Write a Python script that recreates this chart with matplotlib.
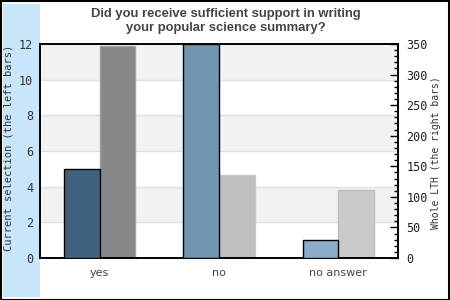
import matplotlib
matplotlib.use("Agg")
import matplotlib.pyplot as plt
from matplotlib.patches import Rectangle
import numpy as np

categories = ["yes", "no", "no answer"]
current_selection = [5, 12, 1]
whole_lth = [346, 136, 111]

title = "Did you receive sufficient support in writing\nyour popular science summary?"
left_label = "Current selection (the left bars)"
right_label = "Whole LTH (the right bars)"

left_colors = ["#41627e", "#7396b0", "#8cadc9"]
right_colors = ["#888888", "#bebebe", "#cacaca"]
right_edges = ["#a0a0a0", "#c8c8c8", "#bcbcbc"]

W, H = 450, 300
fig = plt.figure(figsize=(W / 100, H / 100), dpi=100)
fig.patch.set_facecolor("white")

fig.add_artist(Rectangle((3 / W, 3 / H), 37 / W, 293 / H, transform=fig.transFigure,
                         facecolor="#c8e6fa", edgecolor="none", zorder=0))
fig.add_artist(Rectangle((0.5 / W, 0.5 / H), (W - 1.5) / W, (H - 1.5) / H, transform=fig.transFigure,
                         facecolor="none", edgecolor="black", linewidth=1.5, zorder=5))

ax = fig.add_axes([40 / W, (H - 258) / H, 358 / W, 214 / H])
x = np.arange(len(categories))
ax.set_xlim(-0.5, len(categories) - 0.5)
ax.set_ylim(0, 12)

ax2 = ax.twinx()
ax2.set_ylim(0, 350)
ax2.set_zorder(0)
ax.set_zorder(1)
ax.patch.set_visible(False)
ax2.patch.set_visible(True)
ax2.patch.set_facecolor("white")

for lo in (2, 6, 10):
    ax2.axhspan(lo * 350 / 12, (lo + 2) * 350 / 12, color="#f2f2f2", zorder=0, linewidth=0)
for g in range(2, 12, 2):
    ax2.axhline(g * 350 / 12, color="#e0e0e0", linewidth=1, zorder=0.5)

ax2.bar(x + 0.15, whole_lth, width=0.3, color=right_colors, edgecolor=right_edges,
        linewidth=1, zorder=2)
ax.bar(x - 0.15, current_selection, width=0.3, color=left_colors, edgecolor="black",
       linewidth=1, zorder=3)

mono = "DejaVu Sans Mono"
ax.set_yticks(range(0, 13, 2))
ax.set_yticklabels([str(v) for v in range(0, 13, 2)], fontsize=8.5, family=mono, color="#333333")
ax.tick_params(axis="y", length=0, pad=5)
ax.set_xticks(x)
ax.set_xticklabels(categories, fontsize=8, color="#444444")
ax.tick_params(axis="x", length=0, pad=7)

ax2.set_yticks(range(0, 351, 50))
ax2.set_yticks(range(0, 351, 10), minor=True)
ax2.set_yticklabels([str(v) for v in range(0, 351, 50)], fontsize=8.5, family=mono, color="#222222")
ax2.tick_params(axis="y", which="major", direction="in", length=6, width=1, pad=6)
ax2.tick_params(axis="y", which="minor", direction="in", length=3, width=1)

for a in (ax, ax2):
    for s in a.spines.values():
        s.set_color("black")
        s.set_linewidth(1.2)

fig.text(9 / W, (H - 148) / H, left_label, rotation=90, ha="center", va="center",
         fontsize=7.5, family=mono, color="#333333")
fig.text(436 / W, (H - 153) / H, right_label, rotation=90, ha="center", va="center",
         fontsize=7, family=mono, color="#333333")
fig.text(226 / W, (H - 21) / H, title, ha="center", va="center", fontsize=9.4,
         fontweight="bold", family="Liberation Sans", color="#444444", linespacing=1.15)

fig.savefig("out.png", dpi=100)
